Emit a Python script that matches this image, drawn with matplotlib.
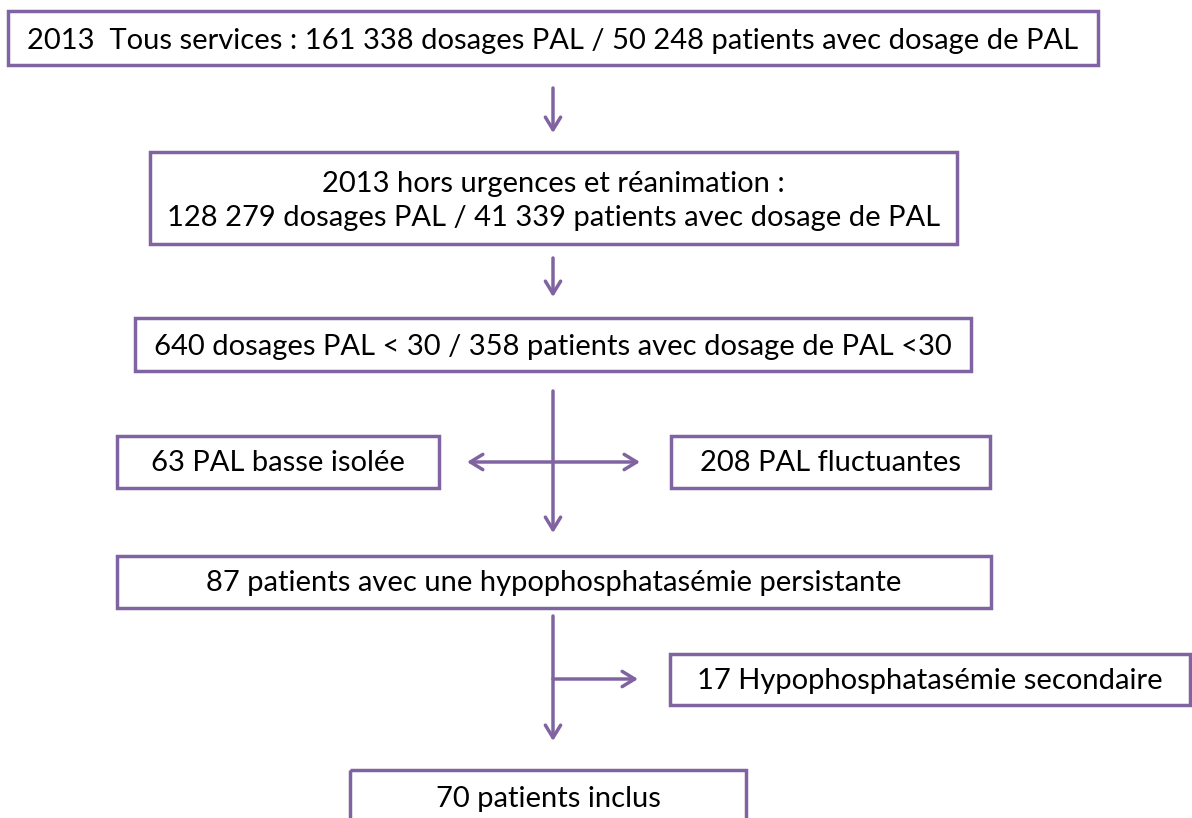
import matplotlib.pyplot as plt
from matplotlib.patches import Rectangle

plt.rcParams['font.family'] = ['Lato', 'DejaVu Sans']

purple = '#8064a2'

# box texts
labels = [
    "2013  Tous services : 161 338 dosages PAL / 50 248 patients avec dosage de PAL",
    "2013 hors urgences et réanimation :\n128 279 dosages PAL / 41 339 patients avec dosage de PAL",
    "640 dosages PAL < 30 / 358 patients avec dosage de PAL <30",
    "63 PAL basse isolée",
    "208 PAL fluctuantes",
    "87 patients avec une hypophosphatasémie persistante",
    "17 Hypophosphatasémie secondaire",
    "70 patients inclus",
]

# box layout in pixels: x0, y0, x1, y1 (y downwards)
boxes = [
    (8, 11, 1098, 65),
    (150, 152, 957, 244),
    (135, 318, 971, 371),
    (117, 436, 439, 488),
    (671, 436, 990, 488),
    (117, 556, 991, 608),
    (670, 654, 1190, 705),
    (350, 770, 746, 830),
]
text_y = [41, 201, 347, 463, 463, 583, 681, 799]

fig = plt.figure(figsize=(11.92, 8.18), dpi=100)
ax = fig.add_axes([0, 0, 1, 1])
ax.set_xlim(0, 1192)
ax.set_ylim(818, 0)
ax.axis('off')

for (x0, y0, x1, y1), lab, ty in zip(boxes, labels, text_y):
    ax.add_patch(Rectangle((x0, y0), x1 - x0, y1 - y0, fill=False,
                           edgecolor=purple, linewidth=2.5))
    ax.text((x0 + x1) / 2, ty, lab, ha='center', va='center', fontsize=21,
            color='black', linespacing=1.35)

cx = 553
arrow = dict(arrowstyle='->,head_length=0.9,head_width=0.55', color=purple, lw=2.5,
             shrinkA=0, shrinkB=0)

def arr(x0, y0, x1, y1, style=arrow):
    ax.annotate('', xy=(x1, y1), xytext=(x0, y0), arrowprops=style)

arr(cx, 88, cx, 133)
arr(cx, 258, cx, 297)
arr(cx, 391, cx, 533)
both = dict(arrow, arrowstyle='<->,head_length=0.9,head_width=0.55')
arr(467, 462, 640, 462, both)
arr(cx, 616, cx, 741)
arr(cx, 679, 638, 679)

plt.savefig('out.png', dpi=100)
